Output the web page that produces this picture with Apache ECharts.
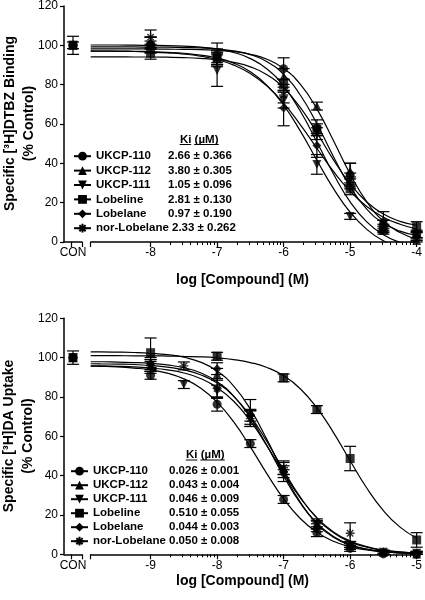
<!DOCTYPE html>
<html><head><meta charset="utf-8">
<script src="https://cdn.jsdelivr.net/npm/echarts@6/dist/echarts.min.js"></script>
<style>html,body{margin:0;padding:0;background:#fff}#c{width:425px;height:600px}</style>
</head><body><div id="c"></div>
<script>
// ---------- DATA ----------
const compounds = ['UKCP-110', 'UKCP-112', 'UKCP-111', 'Lobeline', 'Lobelane', 'nor-Lobelane'];

// Panel A: [3H]DTBZ binding
const dtbzKi = ['2.66 ± 0.366', '3.80 ± 0.305', '1.05 ± 0.096', '2.81 ± 0.130', '0.97 ± 0.190', '2.33 ± 0.262'];
const dtbzDoses = [-8, -7, -6, -5.5, -5, -4.5, -4];
const dtbzMeanUKCP110 = [100, 95, 88, 58, 34, 9, 4];
const dtbzMeanUKCP112 = [101, 94, 84, 69, 36, 7, 0.7];
const dtbzMeanUKCP111 = [99, 87, 72, 39.4, 13, null, null];
const dtbzMeanLobeline = [95.8, 93, 79.7, 57, 27, 6, 7.8];
const dtbzMeanLobelane = [101, 94, 68, 49, 30, 10.7, 3];
const dtbzMeanNor = [104, 93, 74.6, 55, 32, 8, 2.7];
const dtbzErrUKCP110 = [4, 6, 5.5, 4, 6, 2, 2];
const dtbzErrUKCP112 = [3, 3, 4, 2, 4, 2, 1.5];
const dtbzErrUKCP111 = [3, 8, 4, 5, 1.5, 0, 0];
const dtbzErrLobeline = [3, 3, 3, 3, 3, 2, 2.5];
const dtbzErrLobelane = [3, 4, 9, 6, 3, 4.7, 2];
const dtbzErrNor = [3.6, 3, 4, 3, 3, 3, 2];
const dtbzConMean = [100, 100, 100, 100, 100, 100];
const dtbzConErr = [4.6, 0, 0, 1.7, 0, 0];
const dtbzFitX = [-8.9, -8.75, -8.5, -8.25, -8, -7.75, -7.5, -7.25, -7, -6.75, -6.5, -6.25, -6, -5.75, -5.5, -5.25, -5, -4.75, -4.5, -4.25, -4];
const dtbzFitUKCP110 = [99.0, 99.0, 99.0, 99.0, 98.9, 98.9, 98.7, 98.5, 98.0, 97.0, 95.1, 91.5, 85.0, 74.6, 60.0, 43.3, 28.0, 16.7, 9.6, 5.5, 3.3];
const dtbzFitUKCP112 = [98.0, 98.0, 98.0, 98.0, 98.0, 97.9, 97.8, 97.7, 97.3, 96.6, 95.3, 92.8, 88.1, 80.1, 67.6, 51.4, 34.5, 20.4, 10.6, 4.8, 1.5];
const dtbzFitUKCP111 = [97.0, 96.9, 96.9, 96.8, 96.6, 96.3, 95.8, 94.9, 93.4, 90.8, 86.4, 79.5, 69.5, 56.4, 41.5, 27.1, 15.1, 6.4, 0.6, -3.0, -5.1];
const dtbzFitLobeline = [94.0, 94.0, 94.0, 93.9, 93.9, 93.8, 93.6, 93.2, 92.5, 91.2, 88.9, 84.9, 78.2, 68.3, 55.5, 41.7, 29.5, 20.3, 14.2, 10.5, 8.5];
const dtbzFitLobelane = [96.9, 96.9, 96.8, 96.7, 96.4, 96.0, 95.4, 94.3, 92.6, 89.8, 85.5, 79.2, 70.5, 59.6, 47.6, 35.8, 25.8, 18.0, 12.6, 9.0, 6.6];
const dtbzFitNor = [100.0, 100.0, 100.0, 99.9, 99.8, 99.7, 99.4, 98.9, 98.0, 96.2, 93.1, 87.8, 79.1, 66.5, 50.8, 34.5, 20.4, 10.2, 3.7, -0.2, -2.4];
const dtbzMajorTicks = [-8.9, -8, -7, -6, -5, -4];
const dtbzTickLabels = [-8, -7, -6, -5, -4];
const dtbzMinorDecades = [-8, -7, -6, -5];

// Panel B: [3H]DA uptake
const daKi = ['0.026 ± 0.001', '0.043 ± 0.004', '0.046 ± 0.009', '0.510 ± 0.055', '0.044 ± 0.003', '0.050 ± 0.008'];
const daDoses = [-9, -8.5, -8, -7.5, -7, -6.5, -6, -5.5, -5];
const daMeanUKCP110 = [91, null, 76.3, 56.3, 27.9, 11, 3, 0.2, 0];
const daMeanUKCP112 = [96, null, 91.5, 72.4, 43.7, 15, 5, 1, 0.2];
const daMeanUKCP111 = [95, 86.3, 83, 69, 40, 15, 4, 1, 0.5];
const daMeanLobeline = [102.5, null, 100.7, null, 89.7, 73.6, 48.7, null, 7.3];
const daMeanLobelane = [97, null, 94.4, 70.7, 42, 13.5, 5, 1, 0.3];
const daMeanNor = [96, 95.8, 84.3, 69, 44, 16, 10.7, 1, 0.5];
const daErrUKCP110 = [2, 0, 3.5, 2, 2, 2, 1.5, 1, 1];
const daErrUKCP112 = [3, 0, 3, 6.3, 3, 2, 1.5, 1, 1];
const daErrUKCP111 = [3, 2, 3, 4, 3, 2, 1.5, 1, 1];
const daErrLobeline = [7.5, 0, 2, 0, 2, 2, 6.2, 0, 3.7];
const daErrLobelane = [3, 0, 3, 3, 3, 2, 1.5, 1, 1];
const daErrNor = [3, 2, 5, 4, 3.5, 2, 5.3, 1, 1];
const daConMean = [100, 100, 100, 100, 100, 100];
const daConErr = [0, 0, 0, 3.4, 0, 0];
const daFitX = [-9.9, -9.75, -9.5, -9.25, -9, -8.75, -8.5, -8.25, -8, -7.75, -7.5, -7.25, -7, -6.75, -6.5, -6.25, -6, -5.75, -5.5, -5.25, -5];
const daFitUKCP110 = [95.7, 95.6, 95.3, 94.7, 93.8, 92.1, 89.2, 84.6, 77.4, 67.3, 54.6, 40.9, 28.2, 18.2, 11.2, 6.6, 3.8, 2.2, 1.3, 0.7, 0.4];
const daFitUKCP112 = [97.9, 97.9, 97.7, 97.5, 97.1, 96.3, 94.9, 92.3, 87.8, 80.4, 69.4, 55.2, 39.8, 26.1, 15.8, 9.1, 5.0, 2.7, 1.5, 0.8, 0.4];
const daFitUKCP111 = [95.8, 95.8, 95.6, 95.3, 94.7, 93.8, 92.2, 89.4, 84.8, 77.8, 67.8, 55.1, 41.4, 28.7, 18.6, 11.4, 6.8, 3.9, 2.2, 1.3, 0.7];
const daFitLobeline = [101.0, 101.0, 101.0, 100.9, 100.9, 100.8, 100.6, 100.4, 99.9, 99.0, 97.5, 95.0, 90.8, 84.2, 74.5, 61.9, 47.6, 33.7, 22.2, 13.8, 8.3];
const daFitLobelane = [102.9, 102.9, 102.8, 102.6, 102.2, 101.5, 100.2, 97.7, 93.2, 85.5, 73.8, 58.3, 41.4, 26.5, 15.6, 8.7, 4.7, 2.5, 1.3, 0.7, 0.3];
const daFitNor = [96.9, 96.8, 96.7, 96.5, 96.0, 95.2, 93.8, 91.3, 87.1, 80.3, 70.3, 57.2, 42.7, 29.1, 18.4, 11.0, 6.3, 3.6, 2.0, 1.1, 0.6];
const daMajorTicks = [-9.9, -9, -8, -7, -6, -5];
const daTickLabels = [-9, -8, -7, -6, -5];
const daMinorDecades = [-9, -8, -7, -6];

const yTicks = [0, 20, 40, 60, 80, 100, 120];

// ---------- STYLE ----------
const FONT = '"Liberation Sans", Arial, Helvetica, sans-serif';
const BLACK = '#000';
const symbols = ['circle', 'triangle', 'path://M0,0 L10,0 L5,8.66 Z', 'rect', 'diamond',
  'path://M5,0 L5,10 M0,5 L10,5 M1.46,1.46 L8.54,8.54 M8.54,1.46 L1.46,8.54'];
function itemStyleFor(i) {
  return i === 5 ? { color: BLACK, borderColor: BLACK, borderWidth: 1.4 } : { color: BLACK };
}
function minorTicks(decades) {
  const out = [];
  decades.forEach(d => { for (let k = 2; k <= 9; k++) out.push(d + Math.log10(k)); });
  return out;
}

const panels = [
  { conX: 0, mainX: 1, minorX: 2, conY: 0, mainY: 1,
    doses: dtbzDoses, fitX: dtbzFitX,
    means: [dtbzMeanUKCP110, dtbzMeanUKCP112, dtbzMeanUKCP111, dtbzMeanLobeline, dtbzMeanLobelane, dtbzMeanNor],
    errs: [dtbzErrUKCP110, dtbzErrUKCP112, dtbzErrUKCP111, dtbzErrLobeline, dtbzErrLobelane, dtbzErrNor],
    fits: [dtbzFitUKCP110, dtbzFitUKCP112, dtbzFitUKCP111, dtbzFitLobeline, dtbzFitLobelane, dtbzFitNor],
    conMean: dtbzConMean, conErr: dtbzConErr },
  { conX: 3, mainX: 4, minorX: 5, conY: 2, mainY: 3,
    doses: daDoses, fitX: daFitX,
    means: [daMeanUKCP110, daMeanUKCP112, daMeanUKCP111, daMeanLobeline, daMeanLobelane, daMeanNor],
    errs: [daErrUKCP110, daErrUKCP112, daErrUKCP111, daErrLobeline, daErrLobelane, daErrNor],
    fits: [daFitUKCP110, daFitUKCP112, daFitUKCP111, daFitLobeline, daFitLobelane, daFitNor],
    conMean: daConMean, conErr: daConErr }
];

const CON_X = 0.5;

function errRender(params, api) {
  const x = api.value(0), y = api.value(1), e = api.value(2);
  const lo = api.coord([x, Math.max(0, y - e)]);
  const hi = api.coord([x, Math.min(120, y + e)]);
  const hw = 6;
  const st = { stroke: BLACK, lineWidth: 1.2 };
  return { type: 'group', children: [
    { type: 'line', shape: { x1: lo[0], y1: lo[1], x2: hi[0], y2: hi[1] }, style: st },
    { type: 'line', shape: { x1: hi[0] - hw, y1: hi[1], x2: hi[0] + hw, y2: hi[1] }, style: st },
    { type: 'line', shape: { x1: lo[0] - hw, y1: lo[1], x2: lo[0] + hw, y2: lo[1] }, style: st }
  ]};
}

const series = [];
// fitted curves first (legend icons come from these)
panels.forEach(p => {
  compounds.forEach((name, i) => {
    series.push({
      type: 'line', name, xAxisIndex: p.mainX, yAxisIndex: p.mainY,
      data: p.fitX.map((x, j) => [x, p.fits[i][j]]),
      smooth: 0.5, showSymbol: false, symbol: symbols[i], symbolSize: 9,
      lineStyle: { color: BLACK, width: 1.2 }, itemStyle: itemStyleFor(i),
      silent: true, z: 2, clip: true
    });
  });
});
panels.forEach(p => {
  const errData = [], conErrData = [];
  compounds.forEach((name, i) => {
    series.push({
      type: 'scatter', name: name + ' data', xAxisIndex: p.mainX, yAxisIndex: p.mainY,
      data: p.doses.map((x, j) => [x, p.means[i][j]]).filter(d => d[1] != null),
      symbol: symbols[i], symbolSize: 9, itemStyle: itemStyleFor(i), silent: true, z: 4
    });
    series.push({
      type: 'scatter', name: name + ' control', xAxisIndex: p.conX, yAxisIndex: p.conY,
      data: [[CON_X, p.conMean[i]]],
      symbol: symbols[i], symbolSize: 9, itemStyle: itemStyleFor(i), silent: true,
      z: name === 'Lobeline' ? 5 : 4
    });
    p.doses.forEach((x, j) => {
      if (p.means[i][j] != null && p.errs[i][j] > 0) errData.push([x, p.means[i][j], p.errs[i][j]]);
    });
    if (p.conErr[i] > 0) conErrData.push([CON_X, p.conMean[i], p.conErr[i]]);
  });
  series.push({ type: 'custom', name: 'err', xAxisIndex: p.mainX, yAxisIndex: p.mainY,
    data: errData, renderItem: errRender, encode: { x: 0, y: 1 }, silent: true, z: 3 });
  series.push({ type: 'custom', name: 'conerr', xAxisIndex: p.conX, yAxisIndex: p.conY,
    data: conErrData, renderItem: errRender, encode: { x: 0, y: 1 }, silent: true, z: 3 });
});

const axLine = { show: true, lineStyle: { color: BLACK, width: 1.5 } };
const labelStyle = { color: BLACK, fontSize: 12, fontFamily: FONT };
function conXAxis(grid) {
  return { type: 'value', gridIndex: grid, min: 0, max: 1, axisLine: axLine,
    axisTick: { show: true, customValues: [0.4, 1], length: 5, lineStyle: { color: BLACK, width: 1.2 } },
    axisLabel: Object.assign({ customValues: [CON_X], formatter: () => 'CON', margin: 5 }, labelStyle),
    splitLine: { show: false } };
}
function mainXAxis(grid, min, max, major, labels) {
  return { type: 'value', gridIndex: grid, min, max, axisLine: axLine,
    axisTick: { show: true, customValues: major, length: 5, lineStyle: { color: BLACK, width: 1.2 } },
    axisLabel: Object.assign({ customValues: labels, margin: 5 }, labelStyle),
    splitLine: { show: false } };
}
function minorXAxis(grid, min, max, decades) {
  return { type: 'value', gridIndex: grid, min, max, position: 'bottom',
    axisLine: { show: false },
    axisTick: { show: true, customValues: minorTicks(decades), length: 3, lineStyle: { color: BLACK, width: 1 } },
    axisLabel: { show: false }, splitLine: { show: false } };
}
function yAx(grid, show) {
  return { type: 'value', gridIndex: grid, min: 0, max: 120, interval: 20, show,
    axisLine: axLine,
    axisTick: { show: true, customValues: yTicks, length: 4, lineStyle: { color: BLACK, width: 1.2 } },
    axisLabel: Object.assign({ margin: 6 }, labelStyle),
    splitLine: { show: false } };
}

function legendRich(nameWidth) {
  const base = { fontFamily: FONT, fontWeight: 'bold', fontSize: 11.5, color: BLACK, lineHeight: 12 };
  return {
    n: Object.assign({ width: nameWidth }, base),
    m: Object.assign({}, base),
    k: Object.assign({}, base)
  };
}
function legendFmt(kiList, longNameFree) {
  return name => {
    const i = compounds.indexOf(name);
    if (longNameFree && name === 'nor-Lobelane') return '{m|' + name + ' }{k|' + kiList[i] + '}';
    return '{n|' + name + '}{k|' + kiList[i] + '}';
  };
}

const titleFont = 'bold 14px ' + FONT;
const smallBold = 'bold 11.5px ' + FONT;
function kiHeader(cx, cy) {
  return [
    { type: 'text', x: cx, y: cy, style: { text: 'Ki (µM)', font: smallBold, fill: BLACK, align: 'center', verticalAlign: 'middle' } },
    { type: 'line', shape: { x1: cx - 19.5, y1: cy + 5, x2: cx - 8, y2: cy + 5 }, style: { stroke: BLACK, lineWidth: 1 } },
    { type: 'line', shape: { x1: cx - 5, y1: cy + 5, x2: cx + 19.5, y2: cy + 5 }, style: { stroke: BLACK, lineWidth: 1 } }
  ];
}

const option = {
  animation: false,
  backgroundColor: '#fff',
  grid: [
    { left: 64, top: 5.6, width: 18, height: 236.4 },
    { left: 90.7, top: 5.6, width: 330, height: 236.4 },
    { left: 64, top: 318.3, width: 18, height: 236 },
    { left: 90.7, top: 318.3, width: 330, height: 236 }
  ],
  xAxis: [
    conXAxis(0),
    mainXAxis(1, -8.9, -4, dtbzMajorTicks, dtbzTickLabels),
    minorXAxis(1, -8.9, -4, dtbzMinorDecades),
    conXAxis(2),
    mainXAxis(3, -9.9, -5, daMajorTicks, daTickLabels),
    minorXAxis(3, -9.9, -5, daMinorDecades)
  ],
  yAxis: [yAx(0, true), yAx(1, false), yAx(2, true), yAx(3, false)],
  legend: [
    { orient: 'vertical', left: 73, top: 150.2, itemWidth: 17, itemHeight: 11, itemGap: 2.4,
      selectedMode: false, data: compounds, formatter: legendFmt(dtbzKi, true),
      textStyle: { rich: legendRich(72) }, padding: 0 },
    { orient: 'vertical', left: 70, top: 465.2, itemWidth: 17, itemHeight: 11, itemGap: 2,
      selectedMode: false, data: compounds, formatter: legendFmt(daKi, false),
      textStyle: { rich: legendRich(76) }, padding: 0 }
  ],
  graphic: [
    { type: 'text', x: 19.5, y: 123.5, rotation: Math.PI / 2,
      style: { text: 'Specific [³H]DTBZ Binding\n(% Control)', font: titleFont, lineHeight: 19, fill: BLACK, align: 'center', verticalAlign: 'middle' } },
    { type: 'text', x: 19, y: 436, rotation: Math.PI / 2,
      style: { text: 'Specific [³H]DA Uptake\n(% Control)', font: titleFont, lineHeight: 19, fill: BLACK, align: 'center', verticalAlign: 'middle' } },
    { type: 'text', x: 242.5, y: 280, style: { text: 'log [Compound] (M)', font: titleFont, fill: BLACK, align: 'center', verticalAlign: 'middle' } },
    { type: 'text', x: 242.5, y: 581.5, style: { text: 'log [Compound] (M)', font: titleFont, fill: BLACK, align: 'center', verticalAlign: 'middle' } }
  ].concat(kiHeader(199.2, 139.5), kiHeader(205.3, 455)),
  series
};

const chart = echarts.init(document.getElementById('c'), null, { renderer: 'canvas' });
chart.setOption(option);
</script>
</body></html>
